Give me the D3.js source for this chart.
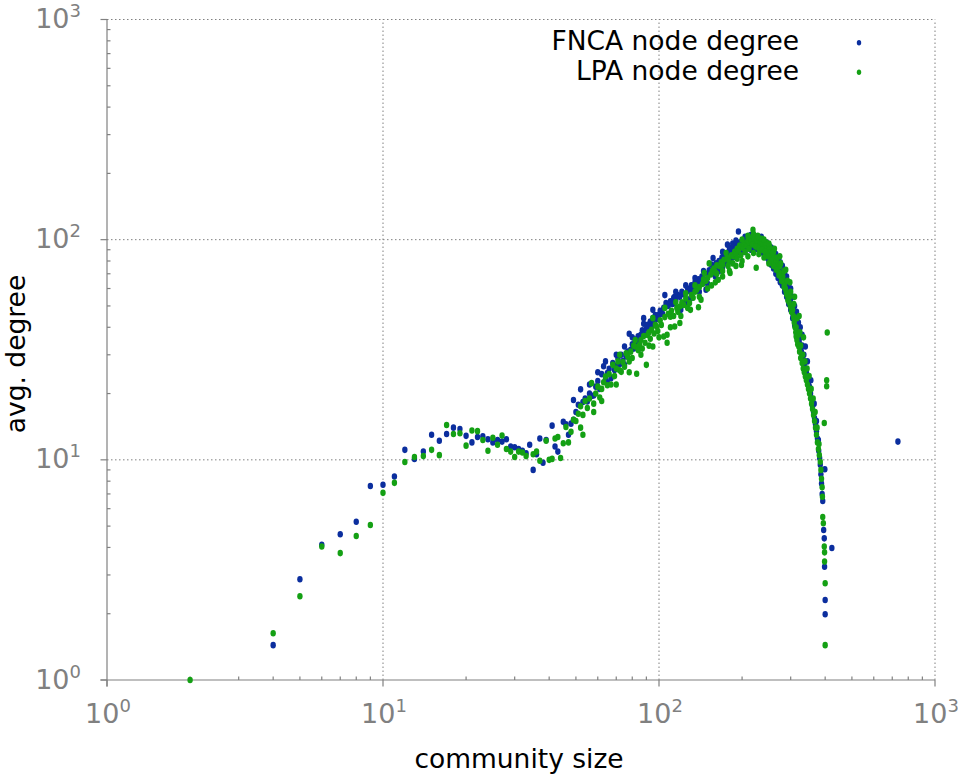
<!DOCTYPE html>
<html>
<head>
<meta charset="utf-8">
<script src="https://cdn.jsdelivr.net/npm/d3@7"></script>
<style>
  html, body { margin: 0; padding: 0; background: #fff; }
  svg { display: block; }
  text { font-family: "DejaVu Sans", Verdana, sans-serif; }
</style>
</head>
<body>
<div id="chart"></div>
<script>
// ---- data ----
const seriesNames = ["FNCA node degree", "LPA node degree"];
const majorExponents = [0, 1, 2, 3];
const xTitle = "community size";
const yTitle = "avg. degree";

// [community size, avg. degree]
const fncaData = [
  [4,1.44],[5,2.87],[6,4.11],[7,4.59],[8,5.23],[9,7.6],[10,7.7],[11,8.4],[12,11.1],[13,10.1],
  [14,10.9],[15,13.0],[16,12.2],[17,13.1],[18,14.0],[19,13.8],[20,12.85],[21,12.0],[22,12.7],[23,12.8],
  [24,12.4],[25,12.0],[26,12.3],[27,12.1],[28,12.4],[29,11.5],[30,11.4],[31,11.2],[32,11.0],[33,10.7],
  [34,11.7],[35,9.0],[36,10.6],[37,12.5],[38,9.7],[39,12.3],[41,14.3],[42,11.5],[43,10.9],[45,14.9],
  [46,14.5],[47,13.0],[48,14.6],[49,15.2],
  [49,18.7],[50,16.5],[51,17.8],[52,20.9],[53,18.3],[54,19.0],[55,18.4],[56,20.0],[57,19.5],[58,19.6],
  [59,21.5],[60,22.8],[61,21.0],[62,24.5],[63,26.6],[64,23.2],[64,28.0],[65,24.8],[66,25.9],[67,23.5],[68,27.5],
  [69,25.6],[70,26.8],[71,28.9],[72,27.2],[73,30.0],[74,28.1],[75,32.7],[76,29.5],[77,31.0],[78,37.4],
  [79,31.6],[80,33.5],[81,32.0],[82,35.2],[83,34.0],[84,36.4],[85,35.0],[86,37.0],[87,38.8],[88,41.5],
  [89,37.2],[90,39.5],[91,41.0],[92,40.0],[93,42.5],[94,40.3],[95,44.0],[96,42.0],[97,45.5],[98,43.5],
  [100,45.6],[101,47.5],[103,46.0],[104,49.0],[106,51.5],[108,50.0],[110,52.5],[112,51.0],[113,54.4],[114,55.0],
  [115,53.0],[117,56.0],[119,55.0],[121,58.0],[123,56.5],[125,51.5],[127,60.0],[129,58.5],[131,62.0],[133,59.3],
  [135,64.0],[137,62.5],[139,66.0],[141,64.5],[143,68.0],[145,66.0],[148,59.3],[150,70.0],[152,72.5],[154,70.5],
  [157,82.5],[159,75.0],[161,78.0],[163,76.0],[165,80.0],[167,78.5],[169,83.0],[171,81.0],[173,86.0],[175,84.0],
  [177,94.9],[179,88.0],[181,86.0],[183,90.0],[185,88.5],[187,92.0],[189,90.0],[191,94.0],[194,109],[196,93.0],
  [198,96.0],[200,94.0],[202,98.0],[204,92.0],[206,97.0],[208,100.0],[210,95.0],[212,99.0],[214,102.0],[216,96.0],
  [218,100.0],[220,98.0],[222,94.0],[224,101.0],[226,97.0],[228,99.0],[230,93.0],[232,96.0],[234,100.0],[236,91.0],
  [238,95.0],[240,98.0],[242,90.0],[244,94.0],[246,88.0],[248,92.0],[250,86.0],[252,89.0],[254,83.0],[256,87.0],
  [258,80.0],[260,84.0],[262,78.0],[264,81.0],[266,75.0],[268,77.0],[270,72.0],[272,74.0],[274,69.0],[276,71.0],
  [278,66.0],[280,68.0],[282,63.0],[284,64.0],[286,60.0],[288,61.5],[290,57.0],[292,58.0],[294,54.0],[296,55.0],
  [298,51.0],[300,52.0],[302,48.5],[304,49.0],[306,46.0],[308,45.0],[310,43.0],[312,41.0],[314,40.0],[316,38.0],
  [318,44.7],[320,36.0],[322,34.5],[324,33.0],[326,32.0],[328,31.0],[330,30.0],[333,28.5],[336,27.0],[339,32.7],
  [342,25.0],[345,24.0],[348,22.5],[351,21.5],[354,20.0],[357,19.0],[360,17.5],[363,16.5],[366,15.5],[369,14.5],
  [372,13.5],[375,12.5],[379,11.0],[382,10.2],[384,9.5],[386,8.6],[388,7.8],[390,7.0],[392,6.5],[395,4.8],
  [397,4.4],[398,3.27],[400,2.31],[400,1.99],[399,9.06],[423,3.98],[734,12.1],
  [160,68],[165,72],[170,75],[175,78],[180,80],[185,83],[190,86],[195,88],[200,90],[205,88],
  [210,92],[215,90],[220,93],[225,91],[230,90],[235,88],[240,86],[245,83],[250,80],[255,77],
  [260,74],[265,70],[270,67],[275,64],[280,62],[285,58],[290,55],[295,51],[300,48],[305,44],
  [310,41],[315,37],[320,34],[325,36],[330,33],[335,30],[195,97],[205,103],[215,105],[225,103],
  [235,103],[245,97],[255,92],[265,86],[275,79],[285,71],[295,62],[305,55],[315,47],[325,40],
  [345,28],[355,23],[365,18],[372,15],[378,12.3],
  [105,56],[115,58],[125,62],[135,67],[145,72],[155,77],[120,48],[130,54],[140,58],[150,63],
  [88,44],[95,48],[80,36],[70,30],[60,25],[75,27],[85,32],[65,22.5],[56,22],[170,88],
  [180,92],[185,96],[190,99],[250,95],[260,90],[270,82],[280,76],[290,68],[300,60],[310,50],
  [320,42],[330,37]
];

const lpaData = [
  [2,1.0],[4,1.63],[5,2.40],[6,4.04],[7,3.77],[8,4.51],[9,5.06],[10,7.08],[11,7.86],[12,9.77],
  [13,10.3],[14,10.4],[15,11.1],[16,10.5],[17,14.4],[18,13.1],[19,13.2],[20,11.6],[21,13.6],[22,13.5],
  [23,12.3],[24,11.0],[25,12.6],[26,11.7],[27,12.9],[28,11.2],[29,10.9],[30,10.3],[31,10.9],[32,10.8],
  [33,10.4],[35,10.6],[36,10.9],[37,9.9],[39,12.2],[40,10.0],[41,10.1],[42,12.5],[43,12.7],[44,10.2],
  [45,11.9],[46,14.1],[47,12.0],[48,13.4],[49,15.2],[51,16.2],[52,14.0],[53,13.0],
  [50,15.0],[52,17.5],[53,16.0],[54,18.5],[55,17.2],[56,19.0],[57,22.3],[58,18.0],[59,20.0],[60,21.5],
  [61,19.2],[62,21.0],[63,22.5],[64,23.9],[65,21.8],[66,24.5],[67,22.0],[68,27.0],[69,24.0],[70,26.0],
  [71,28.0],[72,25.5],[73,25.1],[74,27.8],[75,26.5],[76,30.5],[77,29.5],[78,28.0],[79,31.0],[80,29.0],
  [81,33.0],[82,32.7],[83,24.6],[84,31.5],[85,33.3],[86,35.0],[87,32.0],[88,36.5],[89,34.0],[90,27.0],
  [91,36.9],[92,38.0],[93,35.5],[94,39.0],[95,32.7],[96,37.5],[97,41.0],[98,40.3],[99,38.5],[101,43.0],
  [102,41.0],[104,36.3],[105,44.5],[107,34.0],[107,37.0],[108,46.0],[110,44.7],[111,47.5],[113,45.0],[114,40.3],
  [116,49.0],[117,47.0],[119,49.7],[119,41.8],[121,52.0],[123,50.5],[125,54.0],[127,49.0],[129,51.5],[131,56.0],
  [133,54.5],[135,58.0],[137,59.3],[139,49.3],[140,61.0],[142,53.4],[144,63.0],[146,70.6],[148,65.0],[150,67.0],
  [152,78.0],[154,69.5],[156,72.0],[158,74.0],[160,71.0],[162,76.5],[164,65.8],[166,75.7],[168,79.0],[170,77.0],
  [172,81.0],[175,87.0],[177,83.0],[179,80.5],[181,70.6],[183,85.0],[186,84.0],[188,88.0],[190,86.0],[192,91.0],
  [194,89.0],[196,94.0],[199,76.7],[201,92.0],[203,96.0],[206,96.3],[208,94.0],[210,99.0],[212,97.0],[214,101.0],
  [216,98.0],[219,103.6],[219,111],[221,100.0],[223,97.0],[225,74.5],[227,99.0],[229,102.0],[232,96.0],[234,98.0],
  [236,94.0],[238,97.0],[240,92.0],[242,95.0],[244,89.0],[246,93.0],[248,87.0],[250,90.0],[252,85.0],[254,88.0],
  [256,82.0],[258,87.0],[260,80.0],[262,83.0],[264,77.0],[266,80.0],[268,74.0],[270,76.0],[272,71.0],[274,75.7],
  [276,68.0],[278,70.0],[281,68.0],[283,64.0],[285,62.0],[287,60.0],[289,58.0],[291,56.0],[293,53.0],[295,56.0],
  [297,55.0],[299,50.0],[301,49.0],[303,47.0],[305,48.0],[307,45.0],[309,42.0],[311,40.0],[313,38.0],[314,36.3],
  [316,35.0],[318,33.5],[321,32.7],[323,31.0],[326,29.0],[330,27.5],[333,26.0],[336,25.0],[339,23.9],[342,23.0],
  [345,22.0],[348,21.0],[351,20.0],[354,19.0],[357,18.0],[360,17.0],[363,16.0],[366,15.0],[369,14.0],[372,13.0],
  [375,12.0],[378,11.2],[381,10.5],[384,9.8],[386,9.0],[388,8.2],[390,7.5],[391,6.8],[392,5.5],[394,5.15],
  [397,4.04],[398,3.8],[398,3.45],[400,2.75],[400,1.44],[407,37.9],[405,23.0],[405,21.6],[397,14.7],
  [155,62],[162,70],[170,72],[178,76],[185,78],[192,82],[198,85],[205,88],[212,91],[218,95],
  [224,93],[230,91],[236,90],[242,88],[248,84],[254,80],[260,76],[266,73],[272,69],[278,65],
  [284,61],[290,57],[296,52],[302,47],[308,44],[314,40],[320,37],[326,33],[332,30],[338,28],
  [344,26],[350,24],[356,21],[362,19],[368,16.5],[374,14],[380,11.8],[200,100],[210,104],[220,106],
  [228,104],[236,101],[244,97],[252,93],[260,88],[268,83],[276,78],[284,72],[292,65],[300,58],
  [308,51],[316,44],[324,38],
  [100,36],[110,40],[120,45],[130,48],[140,55],[150,60],[160,64],[170,68],[180,72],[190,76],
  [200,80],[210,84],[220,87],[230,86],[240,83],[250,78],[95,44],[105,49],[115,52],[125,57],
  [135,62],[145,66],[62,18.5],[70,22],[78,25],[86,30],[92,33],[240,100],[250,96],[262,91],
  [274,84],[288,73],[298,64],[310,55],[322,45],[334,36],[72,30],[82,35],[58,16.5]
];

// ---- chart ----
(function () {
const W = 958, H = 775;
const pL = 107, pR = 935, pT = 19.5, pB = 680;
const blue = "#0b2e9e", green = "#14a014", gray = "#808080";

const svg = d3.select("#chart").append("svg").attr("width", W).attr("height", H);
svg.append("rect").attr("width", W).attr("height", H).attr("fill", "#fff");

const x = d3.scaleLog().domain([1, 1000]).range([pL, pR]);
const y = d3.scaleLog().domain([1, 1000]).range([pB, pT]);

const majors = majorExponents.map(e => Math.pow(10, e));
const minors = [];
for (let e = 0; e < 3; e++) for (let m = 2; m <= 9; m++) minors.push(m * Math.pow(10, e));

// grid (dotted)
const grid = svg.append("g").attr("stroke", gray).attr("stroke-width", 1)
  .attr("stroke-dasharray", "1.5,2.5").attr("fill", "none");
majors.slice(1).forEach(v => {
  grid.append("line").attr("x1", pL).attr("x2", pR).attr("y1", y(v)).attr("y2", y(v));
  grid.append("line").attr("x1", x(v)).attr("x2", x(v)).attr("y1", pB).attr("y2", pT);
});

// axes lines
const ax = svg.append("g").attr("stroke", gray).attr("stroke-width", 1.2);
ax.append("line").attr("x1", pL - 6.5).attr("x2", pR).attr("y1", pB).attr("y2", pB);
ax.append("line").attr("x1", pL).attr("x2", pL).attr("y1", pT).attr("y2", pB + 6.5);
majors.forEach(v => {
  ax.append("line").attr("x1", x(v)).attr("x2", x(v)).attr("y1", pB).attr("y2", pB + 6.5);
  ax.append("line").attr("x1", pL - 6.5).attr("x2", pL).attr("y1", y(v)).attr("y2", y(v));
});
minors.forEach(v => {
  ax.append("line").attr("x1", x(v)).attr("x2", x(v)).attr("y1", pB).attr("y2", pB - 3.5);
  ax.append("line").attr("x1", pL).attr("x2", pL + 3.5).attr("y1", y(v)).attr("y2", y(v));
});

// tick labels
function powLabel(g, px, py, exp, anchor) {
  const t = g.append("text").attr("x", px).attr("y", py).attr("fill", gray)
    .attr("text-anchor", anchor).style("font-size", "27px");
  t.append("tspan").text("10");
  t.append("tspan").attr("dy", -11).style("font-size", "18px").text(String(exp));
}
const labels = svg.append("g");
majorExponents.forEach((e, i) => {
  powLabel(labels, x(majors[i]) + 1, 723, e, "middle");
  powLabel(labels, 81, y(majors[i]) + 8.5, e, "end");
});

// axis titles
svg.append("text").attr("x", 519).attr("y", 768).attr("text-anchor", "middle")
  .style("font-size", "26.5px").attr("fill", "#000").text(xTitle);
svg.append("text").attr("transform", "translate(25,354) rotate(-90)").attr("text-anchor", "middle")
  .style("font-size", "26.5px").attr("fill", "#000").text(yTitle);

// points
const rx = 2.7, ry = 3.3;
svg.append("g").selectAll("ellipse").data(fncaData).join("ellipse")
  .attr("cx", d => x(d[0])).attr("cy", d => y(d[1])).attr("rx", rx).attr("ry", ry).attr("fill", blue);
svg.append("g").selectAll("ellipse").data(lpaData).join("ellipse")
  .attr("cx", d => x(d[0])).attr("cy", d => y(d[1])).attr("rx", rx).attr("ry", ry).attr("fill", green);

// legend
const legend = svg.append("g");
[[seriesNames[0], blue, 50, 42.7], [seriesNames[1], green, 80, 72.3]].forEach(([name, col, by, my]) => {
  legend.append("text").attr("x", 799).attr("y", by).attr("text-anchor", "end")
    .style("font-size", "26.5px").attr("fill", "#000").text(name);
  legend.append("ellipse").attr("cx", 859).attr("cy", my).attr("rx", 2.2).attr("ry", 2.7).attr("fill", col);
});
})();
</script>
</body>
</html>
